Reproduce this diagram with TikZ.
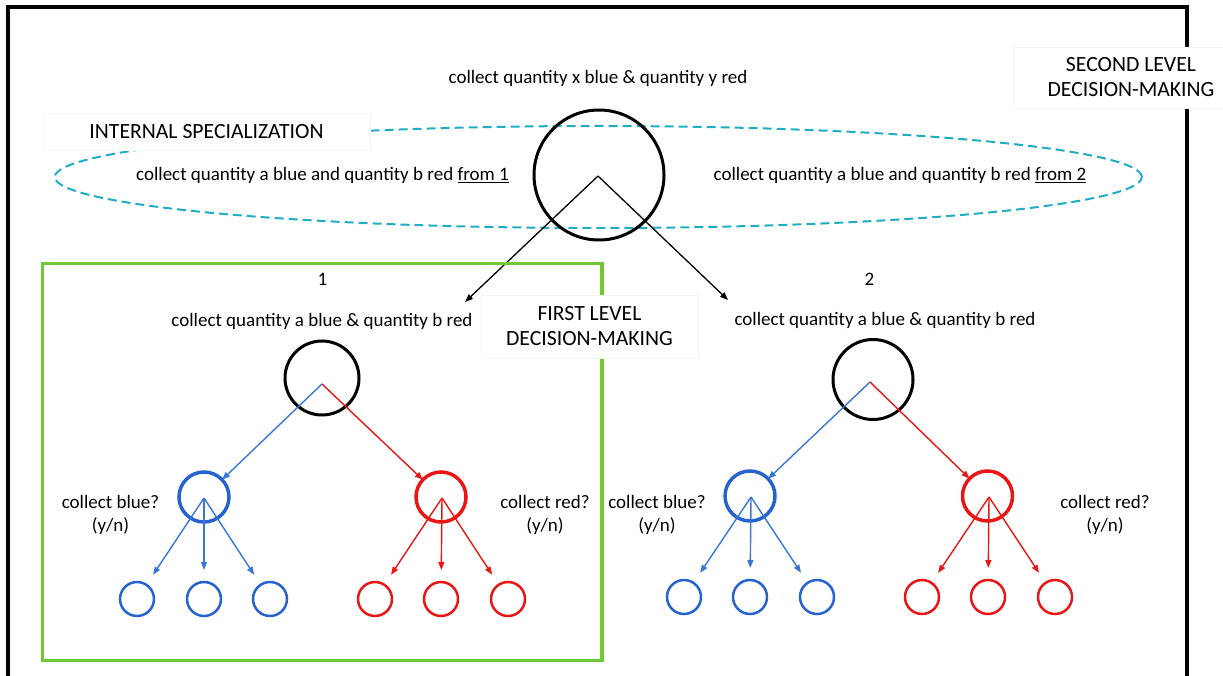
\documentclass[tikz,border=0pt]{standalone}
\usepackage{fontspec}
\setmainfont{Carlito}
\usetikzlibrary{arrows.meta,shapes.geometric}

\definecolor{nodeblue}{RGB}{38,98,208}
\definecolor{arrowblue}{RGB}{58,118,216}
\definecolor{nodered}{RGB}{232,22,22}
\definecolor{framegreen}{RGB}{112,200,52}
\definecolor{specteal}{RGB}{32,172,196}
\definecolor{boxedge}{RGB}{246,246,246}

\begin{document}
\begin{tikzpicture}[x=1pt,y=-1pt,
  every node/.style={inner sep=0pt, outer sep=0pt},
  txt/.style={font=\fontsize{19}{23}\selectfont, anchor=base},
  qlabel/.style={font=\fontsize{19}{23}\selectfont, align=center, anchor=center},
  capbox/.style={font=\fontsize{21.7}{25}\selectfont, align=center, fill=white, draw=boxedge, line width=0.6pt},
  decide/.style={circle, draw=black, line width=3pt, minimum size=#1},
  bluec/.style={circle, draw=nodeblue, line width=3.5pt, minimum size=50pt},
  redc/.style={circle, draw=nodered, line width=3.5pt, minimum size=50pt},
  bleaf/.style={circle, draw=nodeblue, line width=2.5pt, minimum size=34pt},
  rleaf/.style={circle, draw=nodered, line width=2.5pt, minimum size=34pt},
  tip/.style={-{Triangle[length=8pt,width=6pt]}},
  karr/.style={tip, draw=black, line width=1.3pt},
  barr/.style={tip, draw=arrowblue, line width=1.4pt},
  rarr/.style={tip, draw=nodered, line width=1.4pt},
  leafarr/.style={shorten >=12pt},
  spec/.style={ellipse, draw=specteal, line width=2pt, dash pattern=on 9pt off 5pt,
               minimum width=1087pt, minimum height=102pt},
  outerframe/.style={draw=black, line width=3.5pt},
  groupframe/.style={draw=framegreen, line width=3.5pt}
]
\useasboundingbox (0,0) rectangle (1223,676);
\clip (0,0) rectangle (1223,676);

% outer frame (open at the bottom edge)
\draw[outerframe] (8,690) -- (8,7) -- (1187,7) -- (1187,690);

% second level: internal specialization ring and top decision node
\node[spec] (spec) at (598.3,177) {};
\node[decide=130pt] (top) at (599,175) {};
\node[txt] (toplbl) at (598,84) {collect quantity x blue \& quantity y red};
\node[txt] (from1) at (322.5,181) {collect quantity a blue and quantity b red \underline{from 1}};
\node[txt] (from2) at (900,181) {collect quantity a blue and quantity b red \underline{from 2}};

\coordinate (topapex) at (598,176);
\coordinate (in1) at (465,302);
\coordinate (in2) at (728,300);
\draw[karr] (topapex) -- (in1);
\draw[karr] (topapex) -- (in2);

\node[capbox, minimum width=327pt, minimum height=37pt] (intspec) at (206.5,131.5) {INTERNAL SPECIALIZATION};
\node[capbox, minimum width=236pt, minimum height=61pt] (second) at (1131,77.5) {SECOND LEVEL\\DECISION-MAKING};

% first level group
\draw[groupframe] (42.7,263.3) rectangle (601.8,660.7);
\node[capbox, minimum width=217pt, minimum height=63pt] (first) at (589.5,326.5) {FIRST LEVEL\\DECISION-MAKING};

% ---- unit 1 ----
\node[txt] (n1) at (322.5,285.7) {1};
\node[txt] (lbl1) at (322,326) {collect quantity a blue \& quantity b red};
\node[decide=74pt] (c1) at (322,378) {};
\node[bluec] (b1) at (204,497) {};
\node[redc] (r1) at (441,497) {};
\node[bleaf] (b1a) at (137,599) {};
\node[bleaf] (b1b) at (204,599) {};
\node[bleaf] (b1c) at (270,599) {};
\node[rleaf] (r1a) at (375,599) {};
\node[rleaf] (r1b) at (441,599) {};
\node[rleaf] (r1c) at (508,599) {};
\node[qlabel] (qb1) at (110.5,515) {collect blue?\\(y/n)};
\node[qlabel] (qr1) at (545,515) {collect red?\\(y/n)};

\coordinate (a1) at ([yshift=-6pt]c1.center);
\draw[barr] (a1) -- (b1);
\draw[rarr] (a1) -- (r1);
\coordinate (ab1) at ([yshift=-1pt]b1.center);
\coordinate (ar1) at ([xshift=1pt,yshift=-1pt]r1.center);
\foreach \t in {b1a,b1b,b1c} \draw[barr,leafarr] (ab1) -- (\t);
\foreach \t in {r1a,r1b,r1c} \draw[rarr,leafarr] (ar1) -- (\t);

% ---- unit 2 ----
\node[txt] (n2) at (869.5,285.7) {2};
\node[txt] (lbl2) at (885,325) {collect quantity a blue \& quantity b red};
\node[decide=80pt] (c2) at (873,379.5) {};
\node[bluec] (b2) at (750,496) {};
\node[redc] (r2) at (987.5,496) {};
\node[bleaf] (b2a) at (684,597) {};
\node[bleaf] (b2b) at (750,597) {};
\node[bleaf] (b2c) at (817,597) {};
\node[rleaf] (r2a) at (922,597) {};
\node[rleaf] (r2b) at (988,597) {};
\node[rleaf] (r2c) at (1055,597) {};
\node[qlabel] (qb2) at (657,515) {collect blue?\\(y/n)};
\node[qlabel] (qr2) at (1105,515) {collect red?\\(y/n)};

\coordinate (a2) at ([xshift=-3pt,yshift=-2.5pt]c2.center);
\draw[barr] (a2) -- (b2);
\draw[rarr] (a2) -- (r2);
\coordinate (ab2) at ([xshift=1pt,yshift=-1pt]b2.center);
\coordinate (ar2) at ([xshift=1.5pt,yshift=-1pt]r2.center);
\foreach \t in {b2a,b2b,b2c} \draw[barr,leafarr] (ab2) -- (\t);
\foreach \t in {r2a,r2b,r2c} \draw[rarr,leafarr] (ar2) -- (\t);
\end{tikzpicture}
\end{document}
